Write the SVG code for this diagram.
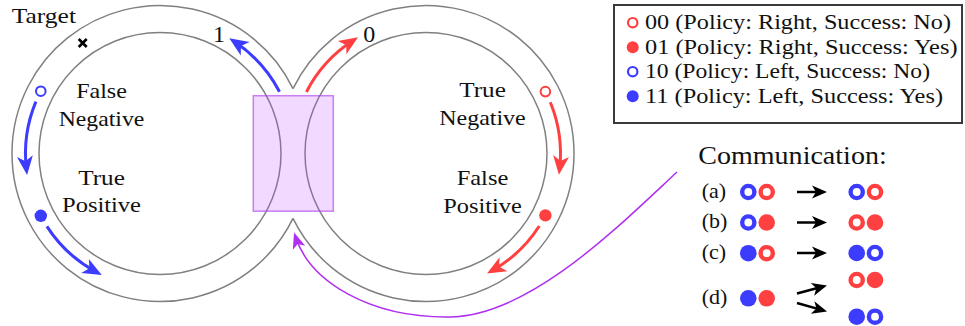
<svg xmlns="http://www.w3.org/2000/svg" width="965" height="326" viewBox="0 0 965 326">
<defs>
<style>
.ring{fill:none;stroke:#808080;stroke-width:1.5}
text{font-family:'Liberation Serif','Times New Roman',serif;font-size:22px;fill:#111}
.arc{fill:none;stroke-width:3}
.b{stroke:#3c3cff}
.r{stroke:#ff4040}
.hb{fill:none;stroke:#3c3cff}
.hr{fill:none;stroke:#ff4040}
.fb{fill:#3c3cff}
.fr{fill:#ff4040}
.k{fill:none;stroke:#000;stroke-width:2.5}
</style>
<marker id="mb" markerUnits="userSpaceOnUse" viewBox="-20 -12 30 24" markerWidth="30" markerHeight="24" refX="0" refY="0" orient="auto"><path d="M6 0 L-13 -8 L-8 0 L-13 8 Z" fill="#3c3cff"/></marker>
<marker id="mr" markerUnits="userSpaceOnUse" viewBox="-20 -12 30 24" markerWidth="30" markerHeight="24" refX="0" refY="0" orient="auto"><path d="M6 0 L-13 -8 L-8 0 L-13 8 Z" fill="#ff4040"/></marker>
<marker id="mk" markerUnits="userSpaceOnUse" viewBox="-20 -12 30 24" markerWidth="30" markerHeight="24" refX="0" refY="0" orient="auto"><path d="M4 0 L-11 -6.5 L-7 0 L-11 6.5 Z" fill="#000"/></marker>
<marker id="mp" markerUnits="userSpaceOnUse" viewBox="-20 -12 30 24" markerWidth="30" markerHeight="24" refX="0" refY="0" orient="auto"><path d="M4 0 L-12 -6.5 L-8 0 L-12 6.5 Z" fill="#b030f0"/></marker>
</defs>
<rect width="965" height="326" fill="#fff"/>

<g id="loop-left">
<path class="ring" d="M293 88.6 A148 148 0 1 0 293 218.4"/>
<circle class="ring" cx="160" cy="153.5" r="121"/>
<text x="11.7" y="22.7" textLength="64.3" lengthAdjust="spacingAndGlyphs">Target</text>
<path d="M78.7 39 L86.7 47 M86.7 39 L78.7 47" stroke="#000" stroke-width="2.6"/>
<text x="219" y="42.3" text-anchor="middle" style="font-size:24px">1</text>
<text x="101.5" y="97.7" text-anchor="middle" textLength="50.7" lengthAdjust="spacingAndGlyphs">False</text>
<text x="101.5" y="126" text-anchor="middle" textLength="85.7" lengthAdjust="spacingAndGlyphs">Negative</text>
<text x="101.5" y="185" text-anchor="middle" textLength="46.7" lengthAdjust="spacingAndGlyphs">True</text>
<text x="101.5" y="212.3" text-anchor="middle" textLength="79" lengthAdjust="spacingAndGlyphs">Positive</text>
<circle class="hb" cx="40.8" cy="91.2" r="4.8" stroke-width="2"/>
<circle class="fb" cx="40.8" cy="215.8" r="6.2"/>
</g>

<g id="loop-right">
<path class="ring" d="M293 88.6 A148 148 0 1 1 293 218.4"/>
<circle class="ring" cx="426" cy="153.5" r="121"/>
<text x="369.2" y="42.3" text-anchor="middle" style="font-size:24px">0</text>
<text x="482.5" y="96.7" text-anchor="middle" textLength="46.7" lengthAdjust="spacingAndGlyphs">True</text>
<text x="482.5" y="125" text-anchor="middle" textLength="86.4" lengthAdjust="spacingAndGlyphs">Negative</text>
<text x="482.5" y="185" text-anchor="middle" textLength="51.6" lengthAdjust="spacingAndGlyphs">False</text>
<text x="482.5" y="213.3" text-anchor="middle" textLength="78.4" lengthAdjust="spacingAndGlyphs">Positive</text>
<circle class="hr" cx="545.4" cy="91.6" r="4.8" stroke-width="2"/>
<circle class="fr" cx="545.4" cy="215.4" r="6.2"/>
</g>

<g id="crossing">
<rect x="253.3" y="95.7" width="80" height="115.5" fill="#c040ff" fill-opacity="0.2" stroke="#b040f0" stroke-opacity="0.65" stroke-width="1.5"/>
</g>

<g id="legend">
<rect x="614" y="5" width="348" height="118" fill="none" stroke="#3a3a3a" stroke-width="2"/>
<circle class="hr" cx="632.7" cy="22.7" r="4.7" stroke-width="2.2"/>
<circle class="fr" cx="632.7" cy="47.2" r="6"/>
<circle class="hb" cx="632.7" cy="71.7" r="4.7" stroke-width="2.2"/>
<circle class="fb" cx="632.7" cy="96.2" r="6"/>
<text x="645" y="29" textLength="306" lengthAdjust="spacingAndGlyphs">00 (Policy: Right, Success: No)</text>
<text x="645" y="53.5" textLength="312.5" lengthAdjust="spacingAndGlyphs">01 (Policy: Right, Success: Yes)</text>
<text x="645" y="78" textLength="285" lengthAdjust="spacingAndGlyphs">10 (Policy: Left, Success: No)</text>
<text x="645" y="102.5" textLength="298" lengthAdjust="spacingAndGlyphs">11 (Policy: Left, Success: Yes)</text>
</g>

<g id="communication">
<text x="698.3" y="164" style="font-size:26px" textLength="188.4" lengthAdjust="spacingAndGlyphs">Communication:</text>
<text x="701.7" y="197.5">(a)</text>
<text x="701.7" y="228">(b)</text>
<text x="701.7" y="258.8">(c)</text>
<text x="701.7" y="303.5">(d)</text>
<g stroke-width="4.4">
<circle class="hb" cx="748.3" cy="192" r="6.1"/><circle class="hr" cx="766.7" cy="192" r="6.1"/>
<circle class="hb" cx="856.7" cy="192" r="6.1"/><circle class="hr" cx="875" cy="192" r="6.1"/>
<circle class="hb" cx="748.3" cy="222.5" r="6.1"/><circle class="fr" cx="766.7" cy="222.5" r="8.3"/>
<circle class="hr" cx="856.7" cy="222.5" r="6.1"/><circle class="fr" cx="875" cy="222.5" r="8.3"/>
<circle class="fb" cx="748.3" cy="253.2" r="8.3"/><circle class="hr" cx="766.7" cy="253.2" r="6.1"/>
<circle class="fb" cx="856.7" cy="253" r="8.3"/><circle class="hb" cx="875" cy="253" r="6.1"/>
<circle class="fb" cx="748.3" cy="298.3" r="8.3"/><circle class="fr" cx="766.7" cy="298.3" r="8.3"/>
<circle class="hr" cx="856.7" cy="280" r="6.1"/><circle class="fr" cx="875" cy="280" r="8.3"/>
<circle class="fb" cx="856.7" cy="316.7" r="8.3"/><circle class="hb" cx="875" cy="316.7" r="6.1"/>
</g>
</g>

<g id="connectors">
<path class="arc b" d="M279.5 91.8 A134.5 134.5 0 0 0 234.3 41.6" marker-end="url(#mb)"/>
<path class="arc b" d="M35.9 101.6 A134.5 134.5 0 0 0 26.4 169.1" marker-end="url(#mb)"/>
<path class="arc b" d="M46.9 226.4 A134.5 134.5 0 0 0 96.5 272.1" marker-end="url(#mb)"/>
<path class="arc r" d="M306.4 92 A134.5 134.5 0 0 1 353 40.6" marker-end="url(#mr)"/>
<path class="arc r" d="M550.3 102.2 A134.5 134.5 0 0 1 559.6 168.9" marker-end="url(#mr)"/>
<path class="arc r" d="M539.3 226 A134.5 134.5 0 0 1 492.2 270.6" marker-end="url(#mr)"/>
<path d="M677 172 C620 225 530 316 450 317 C370 318 310 282 295.3 236.3" fill="none" stroke="#b030f0" stroke-width="1.5" marker-end="url(#mp)"/>
<path class="k" d="M797 192 L823 192" marker-end="url(#mk)"/>
<path class="k" d="M797 222.5 L823 222.5" marker-end="url(#mk)"/>
<path class="k" d="M797 253 L823 253" marker-end="url(#mk)"/>
<path class="k" d="M797 293.5 L823.1 286.5" marker-end="url(#mk)"/>
<path class="k" d="M797 303 L823.2 310.4" marker-end="url(#mk)"/>
</g>
</svg>
